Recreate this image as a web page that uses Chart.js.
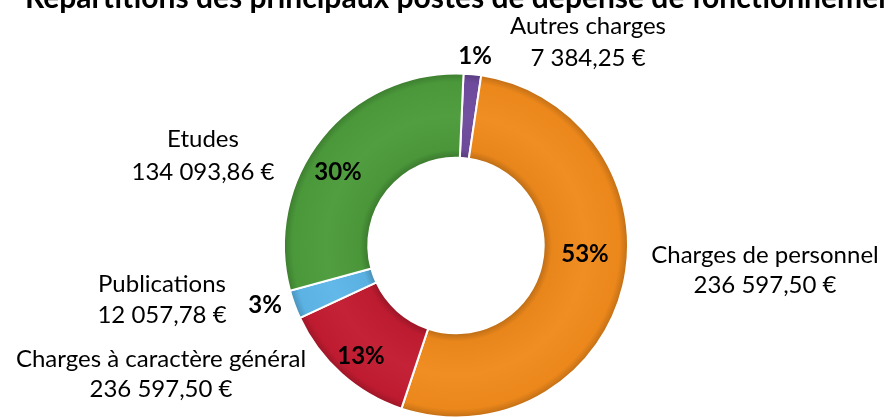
<!DOCTYPE html>
<html><head><meta charset="utf-8">
<script src="https://cdn.jsdelivr.net/npm/chart.js@4"></script>
<style>html,body{margin:0;padding:0;background:#fff;overflow:hidden}#wrap{width:887px;height:417px;position:relative}</style>
</head><body><div id="wrap"><canvas id="c"></canvas></div>
<script>
const titleText = "Répartitions des principaux postes de dépense de fonctionnement";
const categories = ["Autres charges", "Charges de personnel", "Charges à caractère général", "Publications", "Etudes"];
// amounts in euros (the "Charges à caractère général" slice is estimated from its 13% share)
const amounts = [7384.25, 236597.50, 58000, 12057.78, 134093.86];
const amountLabels = ["7 384,25 €", "236 597,50 €", "236 597,50 €", "12 057,78 €", "134 093,86 €"];
const percentLabels = ["1%", "53%", "13%", "3%", "30%"];
const colors = ["#6f4c9e", "#f08a1c", "#c21c31", "#5db6e8", "#4c9b3b"];

// layout (label anchors: centre x, baseline y)
const nameAnchors = [[588, 34, 66], [765, 263, 293], [161, 367, 397], [162, 292, 323], [203, 147, 180]];
const pctAnchors = [[475, 64], [585, 262], [361, 364], [265, 313], [338, 180]];
const OUTER_R = 172, CUTOUT = 0.51;
const FONT = "Lato, 'Open Sans', sans-serif";

function shade(hex, f) {
  const n = parseInt(hex.slice(1), 16);
  let r = (n >> 16) & 255, g = (n >> 8) & 255, b = n & 255;
  const m = v => Math.max(0, Math.min(255, Math.round(f < 0 ? v * (1 + f) : v + (255 - v) * f)));
  return `rgb(${m(r)},${m(g)},${m(b)})`;
}

function bg(ctx) {
  const chart = ctx.chart;
  const base = colors[ctx.dataIndex];
  const ca = chart.chartArea;
  if (!ca) return base;
  const cx = (ca.left + ca.right) / 2, cy = (ca.top + ca.bottom) / 2;
  const ir = OUTER_R * CUTOUT;
  const g = chart.ctx.createRadialGradient(cx, cy, ir, cx, cy, OUTER_R);
  g.addColorStop(0, shade(base, -0.22));
  g.addColorStop(0.1, shade(base, -0.03));
  g.addColorStop(0.5, shade(base, 0.03));
  g.addColorStop(0.9, shade(base, -0.02));
  g.addColorStop(1, shade(base, -0.2));
  return g;
}

const labelPlugin = {
  id: 'labels',
  afterDraw(chart) {
    const c = chart.ctx;
    c.save();
    c.fillStyle = '#000';
    c.textBaseline = 'alphabetic';
    c.textAlign = 'left';
    c.font = `bold 30px ${FONT}`;
    c.fillText(titleText, 25, 8);
    c.textAlign = 'center';
    c.font = `24px ${FONT}`;
    categories.forEach((name, i) => {
      const [x, y1, y2] = nameAnchors[i];
      c.fillText(name, x, y1);
      c.fillText(amountLabels[i], x, y2);
    });
    c.font = `bold 24px ${FONT}`;
    percentLabels.forEach((p, i) => {
      const [x, y] = pctAnchors[i];
      c.fillText(p, x, y);
    });
    c.restore();
  }
};

new Chart(document.getElementById('c'), {
  type: 'doughnut',
  data: {
    labels: categories,
    datasets: [{
      data: amounts,
      backgroundColor: bg,
      borderColor: '#ffffff',
      borderWidth: 2,
      radius: OUTER_R,
      cutout: (CUTOUT * 100) + '%'
    }]
  },
  options: {
    responsive: true,
    maintainAspectRatio: false,
    animation: false,
    rotation: 2.5,
    layout: { padding: { top: 74, bottom: 0, left: 284, right: 259 } },
    plugins: { legend: { display: false }, tooltip: { enabled: false }, title: { display: false } }
  },
  plugins: [labelPlugin]
});
</script></body></html>
